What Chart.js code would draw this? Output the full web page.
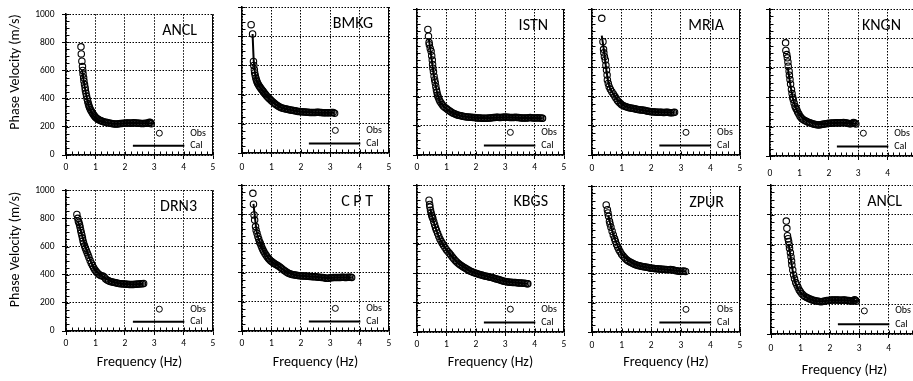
<!DOCTYPE html>
<html><head><meta charset="utf-8">
<script src="https://cdn.jsdelivr.net/npm/chart.js@4.4.1/dist/chart.umd.min.js"></script>
<style>
html,body{margin:0;padding:0;background:#fff;overflow:hidden;width:913px;height:381px}
#wrap{position:relative;width:913px;height:381px;overflow:hidden;background:#fff}
#wrap canvas{position:absolute}
</style></head><body><div id="wrap"></div>
<script>
// ---------- tick labels ----------
const xTicks = [0, 1, 2, 3, 4, 5];
const yTicks = [0, 200, 400, 600, 800, 1000];
const stations = ['ANCL', 'BMKG', 'ISTN', 'MRIA', 'KNGN', 'DRN3', 'C P T', 'KBGS', 'ZPUR', 'ANCL'];
const seriesNames = ['Obs', 'Cal'];
const xTitle = 'Frequency (Hz)';
const yTitle = 'Phase Velocity (m/s)';

// ---------- ANCL (top) ----------
const ancl1ObsF = [0.51,0.52,0.54,0.56,0.57,0.58,0.60,0.61,0.63,0.65,0.66,0.68,0.70,0.72,0.74,0.76,0.78,0.80,0.83,0.86,0.89,0.92,0.95,0.98,1.01,1.05,1.09,1.13,1.17,1.21,1.25,1.30,1.35,1.40,1.45,1.50,1.55,1.60,1.65,1.70,1.75,1.80,1.85,1.90,1.95,2.00,2.05,2.10,2.15,2.20,2.25,2.30,2.35,2.40,2.45,2.50,2.55,2.60,2.65,2.70,2.75,2.80,2.84,2.87,2.90];
const ancl1ObsV = [768,718,666,628,600,575,548,525,500,478,458,438,418,398,380,364,350,337,324,312,301,291,282,274,267,260,254,249,245,241,238,235,232,230,228,226,224,222,221,220,221,222,223,224,225,226,227,228,227,226,228,229,228,227,226,225,224,223,224,225,226,228,232,230,222];
const ancl1CalF = [0.55,0.60,0.65,0.70,0.75,0.80,0.85,0.90,1.00,1.10,1.20,1.40,1.60,1.80,2.00,2.20,2.40,2.60,2.80,2.90];
const ancl1CalV = [605,530,470,415,370,335,310,290,265,250,240,229,222,222,225,227,227,225,226,225];

// ---------- BMKG ----------
const bmkgObsF = [0.31,0.36,0.39,0.40,0.42,0.43,0.45,0.47,0.49,0.51,0.53,0.56,0.59,0.62,0.65,0.68,0.71,0.74,0.77,0.80,0.84,0.88,0.92,0.96,1.00,1.05,1.10,1.15,1.20,1.25,1.30,1.35,1.40,1.45,1.50,1.55,1.60,1.65,1.70,1.75,1.80,1.85,1.90,1.95,2.00,2.05,2.10,2.15,2.20,2.25,2.30,2.35,2.40,2.45,2.50,2.55,2.60,2.65,2.70,2.75,2.80,2.85,2.90,2.95,3.00,3.05,3.10,3.15];
const bmkgObsV = [879,815,627,600,570,550,530,513,500,488,478,467,457,448,440,432,424,416,408,400,391,382,374,366,358,349,340,332,325,318,313,309,306,303,301,299,297,295,293,291,289,287,285,284,283,282,281,280,279,279,278,278,277,277,278,279,279,278,277,276,276,275,275,276,276,277,278,272];
const bmkgCalF = [0.36,0.40,0.45,0.50,0.55,0.60,0.70,0.80,0.90,1.00,1.20,1.40,1.60,1.80,2.00,2.40,2.80,3.15];
const bmkgCalV = [815,630,540,495,470,455,428,400,378,358,325,306,297,289,283,278,276,276];

// ---------- ISTN ----------
const istnObsF = [0.37,0.39,0.41,0.42,0.45,0.48,0.50,0.52,0.53,0.54,0.56,0.58,0.60,0.62,0.64,0.66,0.68,0.70,0.72,0.75,0.78,0.82,0.86,0.90,0.95,1.00,1.05,1.10,1.15,1.20,1.25,1.30,1.35,1.40,1.45,1.50,1.55,1.60,1.65,1.70,1.75,1.80,1.85,1.90,1.95,2.00,2.05,2.10,2.15,2.20,2.25,2.30,2.35,2.40,2.45,2.50,2.55,2.60,2.65,2.70,2.75,2.80,2.85,2.90,2.95,3.00,3.05,3.10,3.15,3.20,3.25,3.30,3.35,3.40,3.45,3.50,3.55,3.60,3.65,3.70,3.75,3.80,3.85,3.90,3.95,4.00,4.05,4.10,4.15,4.20,4.25,4.27];
const istnObsV = [860,814,770,755,730,710,680,650,620,595,570,540,516,495,470,447,428,410,398,382,368,356,344,334,325,318,310,303,296,290,285,280,276,273,270,268,266,264,262,261,260,259,258,257,256,255,254,253,253,252,252,251,251,252,253,254,255,256,257,258,258,257,257,258,259,260,259,258,257,256,256,257,258,257,256,255,254,254,253,253,254,255,256,255,254,253,254,255,254,253,252,252];
const istnCalF = [0.40,0.45,0.50,0.55,0.60,0.65,0.70,0.80,0.90,1.00,1.20,1.40,1.60,1.80,2.00,2.40,2.80,3.20,3.60,4.00,4.27];
const istnCalV = [800,725,655,580,515,460,415,360,333,315,290,273,264,259,255,252,257,256,254,253,252];

// ---------- MRIA ----------
const mriaObsF = [0.33,0.37,0.39,0.40,0.42,0.45,0.47,0.49,0.51,0.52,0.55,0.58,0.62,0.67,0.72,0.77,0.81,0.86,0.91,0.96,1.00,1.05,1.10,1.15,1.20,1.25,1.30,1.35,1.40,1.45,1.50,1.55,1.60,1.65,1.70,1.75,1.80,1.85,1.90,1.95,2.00,2.05,2.10,2.15,2.20,2.25,2.30,2.35,2.40,2.45,2.50,2.55,2.60,2.65,2.70,2.75,2.79];
const mriaObsV = [936,776,724,700,673,651,615,582,548,514,490,468,450,434,418,402,388,374,362,352,345,339,334,330,327,324,322,320,318,316,314,312,310,309,308,306,304,302,300,298,297,296,295,294,293,293,292,292,291,291,292,292,291,290,290,291,292];
const mriaCalF = [0.33,0.38,0.42,0.46,0.50,0.55,0.60,0.70,0.80,1.00,1.20,1.50,2.00,2.50,2.79];
const mriaCalV = [817,750,690,620,560,500,462,425,392,347,328,315,298,292,291];

// ---------- KNGN ----------
const kngnObsF = [0.53,0.54,0.57,0.59,0.61,0.62,0.65,0.66,0.68,0.70,0.73,0.75,0.77,0.79,0.82,0.85,0.88,0.91,0.94,0.98,1.02,1.06,1.10,1.15,1.20,1.25,1.30,1.35,1.40,1.45,1.50,1.55,1.60,1.65,1.70,1.75,1.80,1.85,1.90,1.95,2.00,2.05,2.10,2.15,2.20,2.25,2.30,2.35,2.40,2.45,2.50,2.55,2.60,2.65,2.70,2.75,2.80,2.84,2.88,2.92];
const kngnObsV = [770,718,690,668,640,611,577,550,520,490,452,425,400,384,360,338,325,315,300,285,270,260,252,245,239,235,230,226,222,219,216,214,212,211,212,214,216,218,220,221,222,223,224,224,225,226,226,225,226,227,228,226,224,222,220,219,222,228,224,218];
const kngnCalF = [0.60,0.65,0.70,0.75,0.80,0.90,1.00,1.10,1.20,1.40,1.60,1.80,2.00,2.40,2.80,2.92];
const kngnCalV = [605,540,475,420,375,318,282,260,245,228,217,217,222,226,221,219];

// ---------- DRN3 ----------
const drn3ObsF = [0.37,0.40,0.42,0.44,0.46,0.48,0.50,0.52,0.54,0.56,0.58,0.60,0.63,0.66,0.69,0.72,0.75,0.78,0.82,0.86,0.90,0.94,0.98,1.02,1.06,1.10,1.15,1.20,1.25,1.30,1.35,1.40,1.45,1.50,1.55,1.60,1.65,1.70,1.75,1.80,1.85,1.90,1.95,2.00,2.05,2.10,2.15,2.20,2.25,2.30,2.35,2.40,2.45,2.50,2.55,2.60,2.64];
const drn3ObsV = [828,800,780,771,755,737,715,698,680,660,640,623,605,588,572,556,540,522,500,482,465,450,435,424,414,405,398,393,390,384,370,362,357,352,349,346,344,342,340,338,336,335,334,333,332,332,331,331,331,331,332,332,333,334,335,336,338];
const drn3CalF = [0.40,0.50,0.60,0.70,0.80,0.90,1.00,1.20,1.40,1.60,1.80,2.00,2.30,2.64];
const drn3CalV = [785,715,640,575,515,468,432,395,366,348,339,334,331,335];

// ---------- CPT ----------
const cptObsF = [0.37,0.39,0.41,0.43,0.46,0.48,0.51,0.54,0.57,0.60,0.62,0.65,0.68,0.71,0.74,0.78,0.82,0.86,0.90,0.94,0.98,1.02,1.06,1.10,1.15,1.20,1.25,1.30,1.35,1.40,1.45,1.50,1.55,1.60,1.65,1.70,1.75,1.80,1.85,1.90,1.95,2.00,2.05,2.10,2.15,2.20,2.25,2.30,2.35,2.40,2.45,2.50,2.55,2.60,2.65,2.70,2.75,2.80,2.85,2.90,2.95,3.00,3.05,3.10,3.15,3.20,3.25,3.30,3.35,3.40,3.45,3.50,3.55,3.60,3.65,3.70,3.73];
const cptObsV = [943,868,795,760,715,690,669,648,628,610,601,585,570,556,544,530,518,506,496,488,480,474,468,462,456,450,443,436,428,420,412,405,399,394,390,387,385,383,381,380,379,378,377,377,376,375,375,374,373,372,372,371,370,369,368,367,366,364,362,361,362,364,365,366,366,367,366,366,367,368,368,367,367,368,368,368,367];
const cptCalF = [0.39,0.45,0.50,0.60,0.70,0.80,1.00,1.20,1.40,1.60,1.80,2.00,2.50,2.90,3.20,3.73];
const cptCalV = [870,760,680,610,560,525,478,450,420,396,384,378,371,363,366,367];

// ---------- KBGS ----------
const kbgsObsF = [0.41,0.43,0.44,0.46,0.48,0.50,0.52,0.54,0.57,0.60,0.63,0.66,0.70,0.74,0.78,0.82,0.86,0.90,0.95,1.00,1.05,1.10,1.15,1.20,1.25,1.30,1.35,1.40,1.45,1.50,1.55,1.60,1.65,1.70,1.75,1.80,1.85,1.90,1.95,2.00,2.05,2.10,2.15,2.20,2.25,2.30,2.35,2.40,2.45,2.50,2.55,2.60,2.65,2.70,2.75,2.80,2.85,2.90,2.95,3.00,3.05,3.10,3.15,3.20,3.25,3.30,3.35,3.40,3.45,3.50,3.55,3.60,3.65,3.70,3.75,3.77];
const kbgsObsV = [897,868,850,829,810,795,783,772,750,730,710,692,672,652,632,617,603,590,574,560,547,535,523,510,498,487,477,467,459,452,445,439,433,427,421,415,411,407,403,399,396,393,390,387,384,381,379,377,375,372,370,367,364,361,358,355,352,349,346,343,341,340,339,338,337,336,336,335,334,334,333,332,331,330,329,328];
const kbgsCalF = [0.45,0.50,0.60,0.70,0.80,1.00,1.20,1.40,1.60,1.80,2.00,2.50,3.00,3.50,3.77];
const kbgsCalV = [840,798,730,670,623,560,510,468,440,416,400,372,345,334,329];

// ---------- ZPUR ----------
const zpurObsF = [0.48,0.52,0.54,0.56,0.59,0.61,0.64,0.68,0.72,0.76,0.79,0.83,0.87,0.91,0.95,1.00,1.05,1.10,1.15,1.20,1.25,1.30,1.35,1.40,1.45,1.50,1.55,1.60,1.65,1.70,1.75,1.80,1.85,1.90,1.95,2.00,2.05,2.10,2.15,2.20,2.25,2.30,2.35,2.40,2.45,2.50,2.55,2.60,2.65,2.70,2.75,2.80,2.85,2.90,2.95,3.00,3.05,3.10,3.16];
const zpurObsV = [870,838,815,792,758,740,718,690,665,640,621,600,580,563,549,533,520,508,498,490,483,477,472,467,463,459,456,453,451,449,447,445,443,441,439,437,436,435,434,433,432,431,430,429,428,428,427,427,428,426,424,422,420,418,416,415,416,418,415];
const zpurCalF = [0.55,0.60,0.70,0.80,0.90,1.00,1.20,1.40,1.60,2.00,2.50,3.00,3.16];
const zpurCalV = [800,755,682,622,575,538,494,469,454,438,428,417,416];

// ---------- ANCL (bottom) ----------
const ancl2ObsF = [0.52,0.54,0.56,0.58,0.60,0.62,0.63,0.66,0.68,0.70,0.71,0.74,0.77,0.80,0.84,0.88,0.92,0.96,1.00,1.05,1.10,1.15,1.20,1.25,1.30,1.35,1.40,1.45,1.50,1.55,1.60,1.65,1.70,1.75,1.80,1.85,1.90,1.95,2.00,2.05,2.10,2.15,2.20,2.25,2.30,2.35,2.40,2.45,2.50,2.55,2.60,2.65,2.70,2.75,2.80,2.84,2.87,2.90];
const ancl2ObsV = [758,709,660,640,620,598,575,545,519,490,463,430,396,370,345,329,312,296,284,270,260,252,246,242,237,233,229,226,223,221,219,218,217,218,220,222,224,225,227,228,228,229,229,228,228,227,227,228,228,227,225,224,222,221,223,230,226,219];
const ancl2CalF = [0.60,0.65,0.70,0.75,0.80,0.90,1.00,1.10,1.20,1.40,1.60,1.80,2.00,2.40,2.80,2.90];
const ancl2CalV = [605,540,470,410,365,310,280,260,246,229,219,220,226,227,222,221];

// ---------- panel data list ----------
const panelData = [
  [ancl1ObsF, ancl1ObsV, ancl1CalF, ancl1CalV],
  [bmkgObsF, bmkgObsV, bmkgCalF, bmkgCalV],
  [istnObsF, istnObsV, istnCalF, istnCalV],
  [mriaObsF, mriaObsV, mriaCalF, mriaCalV],
  [kngnObsF, kngnObsV, kngnCalF, kngnCalV],
  [drn3ObsF, drn3ObsV, drn3CalF, drn3CalV],
  [cptObsF, cptObsV, cptCalF, cptCalV],
  [kbgsObsF, kbgsObsV, kbgsCalF, kbgsCalV],
  [zpurObsF, zpurObsV, zpurCalF, zpurCalV],
  [ancl2ObsF, ancl2ObsV, ancl2CalF, ancl2CalV]
];

// ---------- layout (page pixels of each plot area) ----------
const boxes = [
  {L:66,  T:9,   R:213, B:155, first:true,  bottom:false, tp:3.3},
  {L:242, T:7,   R:389, B:153, first:false, bottom:false, tp:5},
  {L:417, T:9,   R:564, B:155, first:false, bottom:false, tp:3},
  {L:592, T:9,   R:740, B:155, first:false, bottom:false, tp:4},
  {L:770, T:9,   R:917, B:156, first:false, bottom:false, tp:7.5},
  {L:66,  T:185, R:213, B:331, first:true,  bottom:true, tp:2.6, td:31},
  {L:242, T:185, R:389, B:331, first:false, bottom:true, tp:2.5, td:31},
  {L:417, T:185, R:564, B:332, first:false, bottom:true, tp:3,   td:30},
  {L:592, T:186, R:740, B:332, first:false, bottom:true, tp:4,   td:30},
  {L:771, T:185, R:918, B:334, first:false, bottom:true, tp:5,   td:36}
];
const yTitleCenters = [72, 249.5];

const FONT = 'Carlito, Calibri, Lato, sans-serif';

const decor = {
  id: 'decor',
  afterDraw(chart, args, o) {
    const {ctx, chartArea: a, scales: {x, y}} = chart;
    const b = o.box;
    ctx.save();
    ctx.setLineDash([]);
    ctx.strokeStyle = '#000';
    ctx.fillStyle = '#000';
    // right border
    ctx.lineWidth = 1;
    const rx = Math.round(a.right) - 0.5;
    ctx.beginPath(); ctx.moveTo(rx, a.top); ctx.lineTo(rx, a.bottom); ctx.stroke();
    // minor / inner tick marks
    ctx.beginPath();
    for (let k = 0; k <= 25; k++) {
      const px = Math.round(x.getPixelForValue(k * 0.2)) + 0.5;
      ctx.moveTo(px, a.bottom); ctx.lineTo(px, a.bottom - 3.5);
    }
    for (let k = 0; k <= 20; k++) {
      const py = Math.round(y.getPixelForValue(k * 50)) + 0.5;
      ctx.moveTo(a.left, py); ctx.lineTo(a.left + 3.5, py);
    }
    ctx.stroke();
    // station name
    ctx.font = '16px ' + FONT;
    ctx.textAlign = 'right'; ctx.textBaseline = 'middle';
    ctx.fillText(o.name, a.right - 16, a.top + 17);
    // legend
    const W = a.right - a.left, H = a.bottom - a.top;
    const ds = chart.data.datasets;
    const oy = a.top + 0.845 * H, cy = a.top + 0.935 * H;
    ctx.lineWidth = 1;
    ctx.beginPath(); ctx.arc(a.left + 0.635 * W, oy, 3, 0, Math.PI * 2); ctx.stroke();
    ctx.lineWidth = 2;
    ctx.beginPath(); ctx.moveTo(a.left + 0.455 * W, cy); ctx.lineTo(a.left + 0.805 * W, cy); ctx.stroke();
    ctx.font = '10px ' + FONT;
    ctx.textAlign = 'left';
    ctx.fillText(ds[1].label, a.left + 0.845 * W, oy);
    ctx.fillText(ds[0].label, a.left + 0.845 * W, cy);
    // y axis title
    if (b.first) {
      ctx.font = '14px ' + FONT;
      ctx.textAlign = 'center'; ctx.textBaseline = 'middle';
      ctx.translate(15 - o.cLeft, o.yTitle - o.cTop);
      ctx.rotate(-Math.PI / 2);
      ctx.fillText(yTitle, 0, 0);
    }
    ctx.restore();
  }
};

const wrap = document.getElementById('wrap');
boxes.forEach((b, i) => {
  const padL = b.first ? b.L : 30;
  const padR = 12, padT = b.T - 1 > 8 ? 8 : b.T - 1;
  const padB = b.bottom ? (381 - b.B - 1) : 22;
  const cLeft = b.L - padL, cTop = b.T - padT;
  const cW = (b.R - b.L) + padL + padR, cH = (b.B - b.T) + padT + padB;
  const cv = document.createElement('canvas');
  cv.width = cW; cv.height = cH;
  cv.style.left = cLeft + 'px'; cv.style.top = cTop + 'px';
  cv.style.width = cW + 'px'; cv.style.height = cH + 'px';
  wrap.appendChild(cv);

  const [oF, oV, cF, cV] = panelData[i];
  const obs = oF.map((f, k) => ({x: f, y: oV[k]})).filter(p => p.y !== undefined);
  const cal = cF.map((f, k) => ({x: f, y: cV[k]})).filter(p => p.y !== undefined);

  const lh = 14 * 1.2;
  const titlePadB = b.bottom ? Math.max(0, padB - b.td - lh / 2) : 0;

  const gridOpts = {color: '#000', lineWidth: 1, drawTicks: true, tickLength: 4, tickColor: '#000', tickWidth: 1, borderDash: [1.5, 1.5]};
  const borderOpts = {display: true, color: '#000', width: 1.5, dash: [1.5, 1.5]};

  new Chart(cv, {
    type: 'scatter',
    data: {
      datasets: [
        {label: seriesNames[1], data: cal, showLine: true, pointRadius: 0, borderColor: '#000', borderWidth: 2, backgroundColor: '#000', cubicInterpolationMode: 'monotone'},
        {label: seriesNames[0], data: obs, showLine: false, pointStyle: 'circle', pointRadius: 3.2, borderColor: '#000', borderWidth: 1.1, backgroundColor: 'rgba(0,0,0,0)'}
      ]
    },
    options: {
      responsive: false, animation: false, events: [],
      devicePixelRatio: 1,
      layout: {padding: {left: 0, top: padT, right: padR, bottom: 0}},
      plugins: {
        legend: {display: false}, tooltip: {enabled: false},
        decor: {box: b, name: stations[i], cLeft, cTop, yTitle: yTitleCenters[b.bottom ? 1 : 0]}
      },
      scales: {
        x: {
          type: 'linear', position: 'bottom', min: 0, max: 5,
          afterBuildTicks: s => { s.ticks = xTicks.map(v => ({value: v})); },
          ticks: {color: '#000', font: {family: FONT, size: 9.5}, padding: b.tp, maxRotation: 0, autoSkip: false, callback: v => String(v)},
          grid: gridOpts, border: borderOpts,
          title: {display: b.bottom, text: xTitle, color: '#000', font: {family: FONT, size: 14}, padding: {top: 0, bottom: titlePadB}},
          afterFit: s => { s.height = padB; }
        },
        y: {
          type: 'linear', position: 'left', min: 0, max: 1000,
          afterBuildTicks: s => { s.ticks = yTicks.map(v => ({value: v})); },
          ticks: {display: b.first, color: '#000', font: {family: FONT, size: 9.5}, padding: 7.5, callback: v => String(v)},
          grid: gridOpts, border: borderOpts,
          afterFit: s => { s.width = padL; }
        }
      }
    },
    plugins: [decor]
  });
});
</script></body></html>
